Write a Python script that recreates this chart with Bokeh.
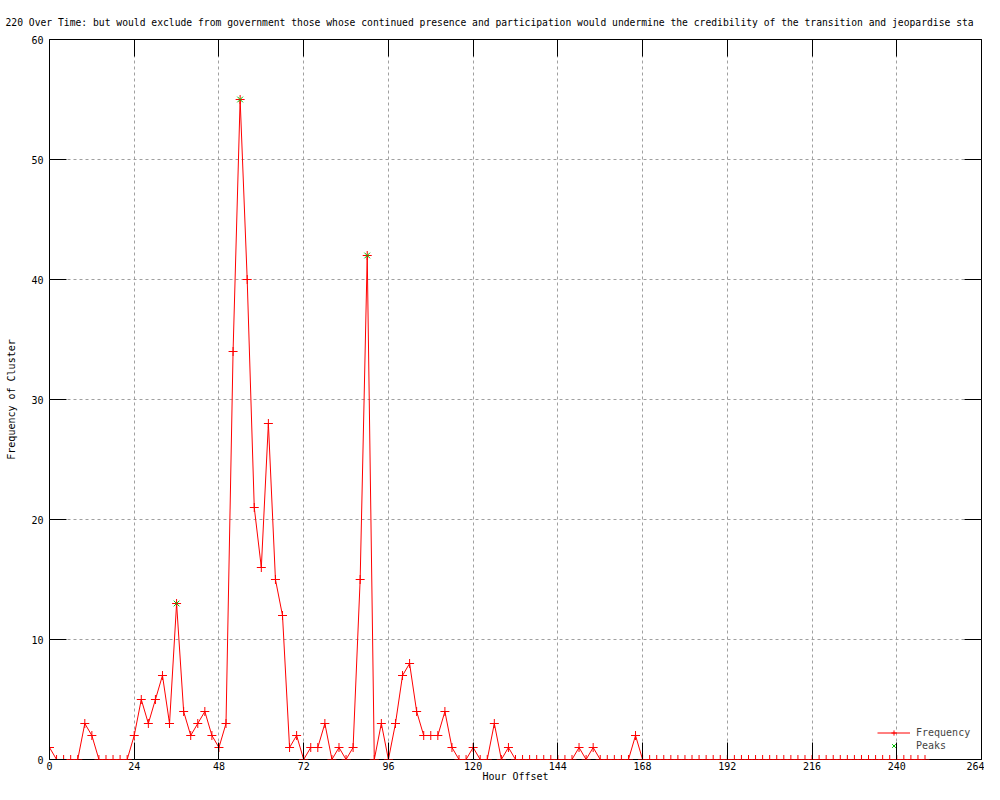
from bokeh.plotting import figure
from bokeh.models import (Range1d, FixedTicker, LinearAxis, Legend, Title,
                          LegendItem, ColumnDataSource)
from bokeh.embed import file_html
from bokeh.resources import INLINE

# ---------------- data ----------------
title_text = ("220 Over Time: but would exclude from government those whose continued "
              "presence and participation would undermine the credibility of the "
              "transition and jeopardise sta")

hours = [0, 2, 4, 6, 8, 10, 12, 14, 16, 18, 20, 22,
         24, 26, 28, 30, 32, 34, 36, 38, 40, 42, 44, 46,
         48, 50, 52, 54, 56, 58, 60, 62, 64, 66, 68, 70,
         72, 74, 76, 78, 80, 82, 84, 86, 88, 90, 92, 94,
         96, 98, 100, 102, 104, 106, 108, 110, 112, 114, 116, 118,
         120, 122, 124, 126, 128, 130, 132, 134, 136, 138, 140, 142,
         144, 146, 148, 150, 152, 154, 156, 158, 160, 162, 164, 166,
         168, 170, 172, 174, 176, 178, 180, 182, 184, 186, 188, 190,
         192, 194, 196, 198, 200, 202, 204, 206, 208, 210, 212, 214,
         216, 218, 220, 222, 224, 226, 228, 230, 232, 234, 236, 238,
         240, 242, 244, 246, 248]

frequency = [1, 0, 0, 0, 0, 3, 2, 0, 0, 0, 0, 0,
             2, 5, 3, 5, 7, 3, 13, 4, 2, 3, 4, 2,
             1, 3, 34, 55, 40, 21, 16, 28, 15, 12, 1, 2,
             0, 1, 1, 3, 0, 1, 0, 1, 15, 42, 0, 3,
             0, 3, 7, 8, 4, 2, 2, 2, 4, 1, 0, 0,
             1, 0, 0, 3, 0, 1, 0, 0, 0, 0, 0, 0,
             0, 0, 0, 1, 0, 1, 0, 0, 0, 0, 0, 2,
             0, 0, 0, 0, 0, 0, 0, 0, 0, 0, 0, 0,
             0, 0, 0, 0, 0, 0, 0, 0, 0, 0, 0, 0,
             0, 0, 0, 0, 0, 0, 0, 0, 0, 0, 0, 0,
             0, 0, 0, 0, 0]

peak_hours = [36, 54, 90]
peak_values = [13, 55, 42]

x_ticks = [0, 24, 48, 72, 96, 120, 144, 168, 192, 216, 240, 264]
y_ticks = [0, 10, 20, 30, 40, 50, 60]

FONT = "DejaVu Sans Mono"
FS = "10px"

# ---------------- figure ----------------
p = figure(width=984, height=784, output_backend="svg", toolbar_location=None,
           x_range=Range1d(0, 264), y_range=Range1d(0, 60),
           min_border_left=49, min_border_right=3,
           min_border_top=39, min_border_bottom=24,
           x_axis_label="Hour Offset", y_axis_label="Frequency of Cluster")

p.background_fill_color = "white"
p.border_fill_color = "white"
p.outline_line_color = "black"
p.outline_line_width = 1

# mirror axes (ticks only)
p.add_layout(LinearAxis(), "above")
p.add_layout(LinearAxis(), "right")

for ax in p.xaxis:
    ax.ticker = FixedTicker(ticks=x_ticks)
for ax in p.yaxis:
    ax.ticker = FixedTicker(ticks=y_ticks)

for ax in p.xaxis + p.yaxis:
    ax.axis_line_color = None
    ax.major_tick_in = 17
    ax.major_tick_out = 0
    ax.major_tick_line_color = "black"
    ax.minor_tick_line_color = None
    ax.major_label_text_font = FONT
    ax.major_label_text_font_size = FS
    ax.major_label_text_color = "black"
    ax.axis_label_text_font = FONT
    ax.axis_label_text_font_size = FS
    ax.axis_label_text_font_style = "normal"
    ax.axis_label_text_color = "black"

# hide labels on mirror axes
for ax in (p.above[0], p.right[0]):
    ax.major_label_text_color = None
    ax.major_label_standoff = 0

p.below[0].major_label_standoff = 2
p.below[0].axis_label_standoff = -2
p.left[0].major_label_standoff = 6
p.left[0].axis_label_standoff = 11

p.xgrid.ticker = FixedTicker(ticks=x_ticks)
p.ygrid.ticker = FixedTicker(ticks=y_ticks)
for g in (p.xgrid, p.ygrid):
    g.grid_line_color = "#a0a0a0"
    g.grid_line_dash = "3 3"
    g.grid_line_width = 1

src = ColumnDataSource(dict(x=hours, y=frequency))
psrc = ColumnDataSource(dict(x=peak_hours, y=peak_values))

line_r = p.line("x", "y", source=src, line_color="#ff0000", line_width=1)
cross_r = p.scatter("x", "y", source=src, marker="cross", size=9,
                    line_color="#ff0000", line_width=1)
peak_r = p.scatter("x", "y", source=psrc, marker="x", size=8,
                   line_color="#00c000", line_width=1)

legend = Legend(items=[LegendItem(label="Frequency", renderers=[line_r, cross_r]),
                       LegendItem(label="Peaks", renderers=[peak_r])],
                location=(828, 7))
legend.label_text_font = FONT
legend.label_text_font_size = FS
legend.label_height = 13
legend.glyph_height = 13
legend.glyph_width = 33
legend.label_standoff = 6
legend.spacing = 0
legend.padding = 0
legend.margin = 0
legend.border_line_color = None
legend.background_fill_alpha = 0
p.add_layout(legend)

title = Title(text=title_text, align="left", offset=-44, standoff=24,
              text_font=FONT, text_font_size="9.7px", text_font_style="normal",
              text_color="black")
p.add_layout(title, "above")

open("out.html", "w").write(file_html(p, INLINE))
